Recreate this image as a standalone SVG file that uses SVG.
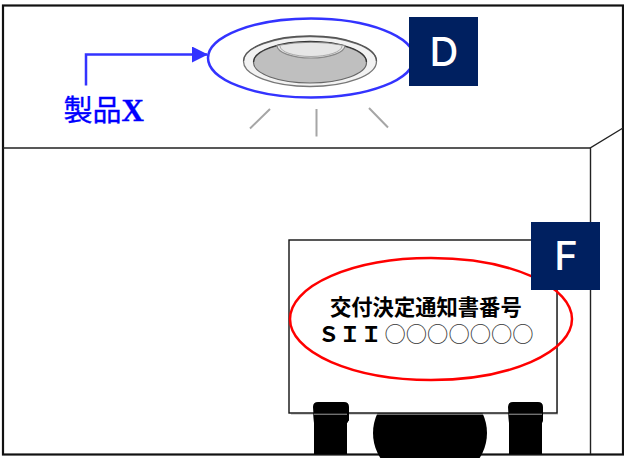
<svg xmlns="http://www.w3.org/2000/svg" width="624" height="458" viewBox="0 0 624 458">
<style>
.wall{fill:none;stroke:#222;stroke-width:1.400}
.ray{fill:none;stroke:#a6a6a6;stroke-width:2}
.badge{fill:#002060}
.badge-t{fill:#fff;font-family:Inter,"Liberation Sans",sans-serif;font-size:40px;font-weight:500;text-anchor:middle}
.card-t{font-family:"Liberation Sans","Noto Sans CJK JP",sans-serif;font-size:21.300px;font-weight:700;fill:#000}
.card-c{font-family:"Noto Sans CJK JP",sans-serif;font-weight:400;fill:#333}
</style>
<defs>
<marker id="arrow" viewBox="0 0 16 16" markerUnits="userSpaceOnUse" markerWidth="16" markerHeight="16" refX="15" refY="8" orient="auto"><path d="M0 0L16 8L0 16Z" fill="#3333ff"/></marker>
</defs>
<rect width="624" height="458" fill="#fff"/>
<g id="room">
<rect x="3" y="5.500" width="620" height="449" fill="none" stroke="#111" stroke-width="2.200"/>
<path class="wall" d="M3 148H590L623 128M590.500 148V454"/>
</g>
<g id="lamp">
<path class="ray" d="M270 109L250 128.500M316.500 109V136.500M369 108L388 127.500"/>
<ellipse cx="310" cy="61.500" rx="66.500" ry="25" fill="#f2f2f2" stroke="#777" stroke-width="1.300"/>
<path d="M243.500 61A66.500 25 0 0 1 376.500 61" fill="none" stroke="#555" stroke-width="1.300"/>
<ellipse cx="310" cy="62.500" rx="56.500" ry="20.500" fill="#bfbfbf" stroke="#666" stroke-width="1.200"/>
<path d="M253.500 62A56.500 20.500 0 0 1 366.500 62" fill="none" stroke="#333" stroke-width="1.300"/>
<path d="M277 45.500A34 12.500 0 0 0 345 45.500Q311 39 277 45.500Z" fill="#e6e6e6" stroke="#888" stroke-width="1.200"/>
<path d="M280 46A31 10.500 0 0 0 342 46" fill="none" stroke="#aaa" stroke-width="1"/>
</g>
<g id="product-x">
<ellipse cx="311" cy="58" rx="103" ry="39.500" fill="none" stroke="#3333ff" stroke-width="2.500"/>
<text x="63.500" y="121" font-family="'Liberation Serif','Noto Sans CJK JP',serif" font-size="29" fill="#0000ff" stroke="#0000ff" stroke-width=".35">製品<tspan font-size="31" font-weight="700">X</tspan></text>
</g>
<g id="connectors">
<path d="M86 85.500V54.500H207" fill="none" stroke="#3333ff" stroke-width="2.500" marker-end="url(#arrow)"/>
</g>
<g id="badge-d">
<rect class="badge" x="409" y="17" width="69" height="69"/>
<text class="badge-t" x="444" y="66">D</text>
</g>
<g id="person">
<ellipse cx="430" cy="433" rx="57" ry="51" fill="#000"/>
<path d="M313 407Q313 402 318 402H344Q349 402 349 407V420L347 423V454H314V423Z" fill="#000"/>
<path d="M508 407Q508 402 513 402H538Q543 402 543 407V420L542 423V454H509V423Z" fill="#000"/>
</g>
<g id="card">
<rect x="291" y="242" width="267" height="173" fill="#bbb" opacity=".6"/>
<rect x="289" y="240" width="268" height="173" fill="#fff" stroke="#111" stroke-width="1.400"/>
<path d="M313 407Q313 402 318 402H344Q349 402 349 407V420L347 423V413H314V423Z" fill="#000"/>
<path d="M508 407Q508 402 513 402H538Q543 402 543 407V420L542 423V413H509V423Z" fill="#000"/>
<text class="card-t"><tspan x="330" y="315">交付決定通知書番号</tspan><tspan x="318" y="342">ＳＩＩ</tspan><tspan class="card-c" x="384.500" y="342">○○○○○○○</tspan></text>
<ellipse cx="431" cy="319" rx="141" ry="61" fill="none" stroke="#ff0000" stroke-width="2.500"/>
</g>
<g id="badge-f">
<rect class="badge" x="531" y="222" width="69" height="68"/>
<text class="badge-t" x="566" y="270">F</text>
</g>
</svg>
